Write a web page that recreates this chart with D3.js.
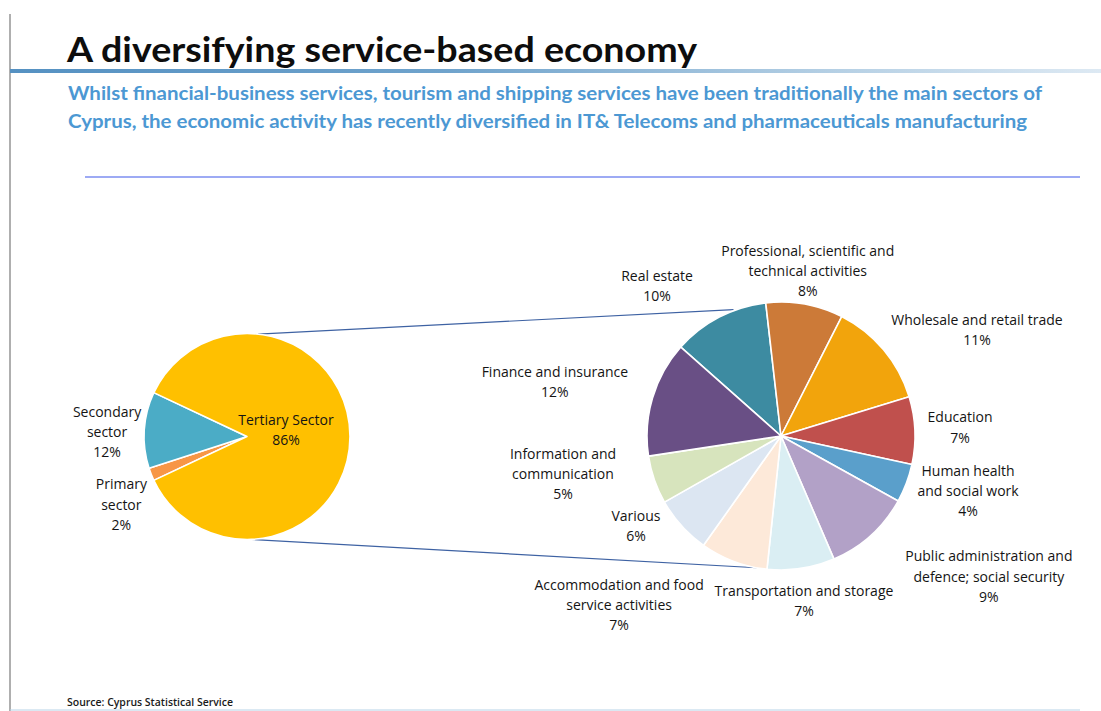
<!DOCTYPE html>
<html>
<head>
<meta charset="utf-8">
<script src="https://cdn.jsdelivr.net/npm/d3@7"></script>
<style>
  body { margin: 0; background: #ffffff; }
  svg { display: block; }
</style>
</head>
<body>
<svg id="chart" width="1101" height="711"></svg>
<script>
// Economy by broad sector (% of gross value added)
const sectorNames = ["Primary sector", "Secondary sector", "Tertiary Sector"];
const sectorValues = [2, 12, 86];
const sectorLabelLines = [["Primary", "sector"], ["Secondary", "sector"], ["Tertiary Sector"]];

// Breakdown of the tertiary sector (% of gross value added), clockwise
const serviceNames = [
  "Real estate",
  "Professional, scientific and technical activities",
  "Wholesale and retail trade",
  "Education",
  "Human health and social work",
  "Public administration and defence; social security",
  "Transportation and storage",
  "Accommodation and food service activities",
  "Various",
  "Information and communication",
  "Finance and insurance"
];
const serviceValues = [10, 8, 11, 7, 4, 9, 7, 7, 6, 5, 12];
const serviceLabelLines = [
  ["Real estate"],
  ["Professional, scientific and", "technical activities"],
  ["Wholesale and retail trade"],
  ["Education"],
  ["Human health", "and social work"],
  ["Public administration and", "defence; social security"],
  ["Transportation and storage"],
  ["Accommodation and food", "service activities"],
  ["Various"],
  ["Information and", "communication"],
  ["Finance and insurance"]
];

const titleText = "A diversifying service-based economy";
const subtitleLines = [
  "Whilst financial-business services, tourism and shipping services have been traditionally the main sectors of",
  "Cyprus, the economic activity has recently diversified in IT& Telecoms and pharmaceuticals manufacturing"
];
const sourceText = "Source: Cyprus Statistical Service";

// Slice colours
const sectorColors = ["#F79646", "#4BACC6", "#FFC000"];
const serviceColors = [
  "#3D8BA1", "#CC7A38", "#F2A40C", "#C0504D", "#5A9FCB", "#B2A1C7",
  "#DAEEF3", "#FDE9D9", "#DCE6F2", "#D7E4BD", "#694F85"
];

// Label placement: [angle offset from slice middle (deg), distance from pie centre (px)]
const sectorLabelPlacement = [[-6.9, 143], [-1.8, 140], [-9.5, 39.5]];
const serviceLabelPlacement = [
  [-12.1, 194.6], [-1.0, 167], [11.6, 222.8], [-0.3, 179.2], [-4.3, 195], [-13.8, 251],
  [0.7, 166.6], [23.1, 234], [10.3, 170.7], [9.2, 221.3], [-3.1, 232.4]
];

const rad = d => d * Math.PI / 180;
const svg = d3.select("#chart");
const labelFont = "'Open Sans', 'Noto Sans', sans-serif";

// ---- Slide frame ----
svg.append("line")
  .attr("x1", 10).attr("x2", 10).attr("y1", 14).attr("y2", 711)
  .attr("stroke", "#7a7a7a").attr("stroke-width", 1.2);

const defs = svg.append("defs");
const grad = defs.append("linearGradient").attr("id", "titleBar")
  .attr("x1", "0%").attr("x2", "100%").attr("y1", "0%").attr("y2", "0%");
grad.append("stop").attr("offset", "0%").attr("stop-color", "#5591C2");
grad.append("stop").attr("offset", "40%").attr("stop-color", "#6FA3CC");
grad.append("stop").attr("offset", "75%").attr("stop-color", "#B4CFE4");
grad.append("stop").attr("offset", "100%").attr("stop-color", "#DDE9F3");
svg.append("rect")
  .attr("x", 10).attr("y", 69).attr("width", 1091).attr("height", 4)
  .attr("fill", "url(#titleBar)");

svg.append("text")
  .attr("x", 67).attr("y", 62)
  .attr("font-family", "Lato, 'Open Sans', sans-serif")
  .attr("font-weight", 700).attr("font-size", 34)
  .attr("fill", "#0d0d0d")
  .attr("textLength", 630).attr("lengthAdjust", "spacingAndGlyphs")
  .text(titleText);

const subWidths = [974, 959];
subtitleLines.forEach((t, i) => {
  svg.append("text")
    .attr("x", 68).attr("y", 100 + i * 28.3)
    .attr("font-family", "Lato, 'Open Sans', sans-serif")
    .attr("font-weight", 700).attr("font-size", 19)
    .attr("fill", "#4C98D3")
    .attr("textLength", subWidths[i]).attr("lengthAdjust", "spacingAndGlyphs")
    .text(t);
});

svg.append("line")
  .attr("x1", 85).attr("x2", 1080).attr("y1", 177).attr("y2", 177)
  .attr("stroke", "#7C8EF0").attr("stroke-width", 1.5);

svg.append("line")
  .attr("x1", 10).attr("x2", 1080).attr("y1", 710).attr("y2", 710)
  .attr("stroke", "#B7D2E6").attr("stroke-width", 1);

svg.append("text")
  .attr("x", 67).attr("y", 706)
  .attr("font-family", labelFont)
  .attr("font-weight", 600)
  .attr("font-size", 10).attr("fill", "#1a1a1a")
  .attr("textLength", 166).attr("lengthAdjust", "spacingAndGlyphs")
  .text(sourceText);

// ---- Pies ----
const leftPie = { cx: 247, cy: 436.5, r: 103, start: 244.8 };
const rightPie = { cx: 781, cy: 436, r: 134, start: -48.4 };

const polar = (p, angDeg, dist) => [
  p.cx + dist * Math.sin(rad(angDeg)),
  p.cy - dist * Math.cos(rad(angDeg))
];

// Connectors linking the tertiary sector to its breakdown
const connectors = [
  [polar(leftPie, 6.2, leftPie.r), polar(rightPie, -20.6, rightPie.r + 1)],
  [polar(leftPie, 177.4, leftPie.r), polar(rightPie, 190.5, rightPie.r)]
];
svg.append("g").selectAll("line").data(connectors).join("line")
  .attr("x1", d => d[0][0]).attr("y1", d => d[0][1])
  .attr("x2", d => d[1][0]).attr("y2", d => d[1][1])
  .attr("stroke", "#3E62A3").attr("stroke-width", 1.2);

function drawPie(p, values, colors, lines, placement) {
  const pie = d3.pie().sort(null).value(d => d)
    .startAngle(rad(p.start)).endAngle(rad(p.start) + 2 * Math.PI);
  const arcs = pie(values);
  const arc = d3.arc().innerRadius(0).outerRadius(p.r);

  const g = svg.append("g").attr("transform", `translate(${p.cx},${p.cy})`);
  g.selectAll("path").data(arcs).join("path")
    .attr("d", arc)
    .attr("fill", (d, i) => colors[i])
    .attr("stroke", "#ffffff").attr("stroke-width", 1.6)
    .attr("stroke-linejoin", "round");

  const lh = 20.3;
  const labels = svg.append("g")
    .attr("font-family", labelFont)
    .attr("font-size", 14).attr("fill", "#141414")
    .attr("text-anchor", "middle");
  arcs.forEach((a, i) => {
    const mid = (a.startAngle + a.endAngle) / 2 * 180 / Math.PI;
    const [lx, ly] = polar(p, mid + placement[i][0], placement[i][1]);
    const all = lines[i].concat([a.data + "%"]);
    const t = labels.append("text").attr("x", lx).attr("y", ly);
    all.forEach((s, k) => {
      t.append("tspan")
        .attr("x", lx)
        .attr("y", ly + (k - (all.length - 1) / 2) * lh)
        .attr("dy", "0.35em")
        .text(s);
    });
  });
}

drawPie(rightPie, serviceValues, serviceColors, serviceLabelLines, serviceLabelPlacement);
drawPie(leftPie, sectorValues, sectorColors, sectorLabelLines, sectorLabelPlacement);
</script>
</body>
</html>
